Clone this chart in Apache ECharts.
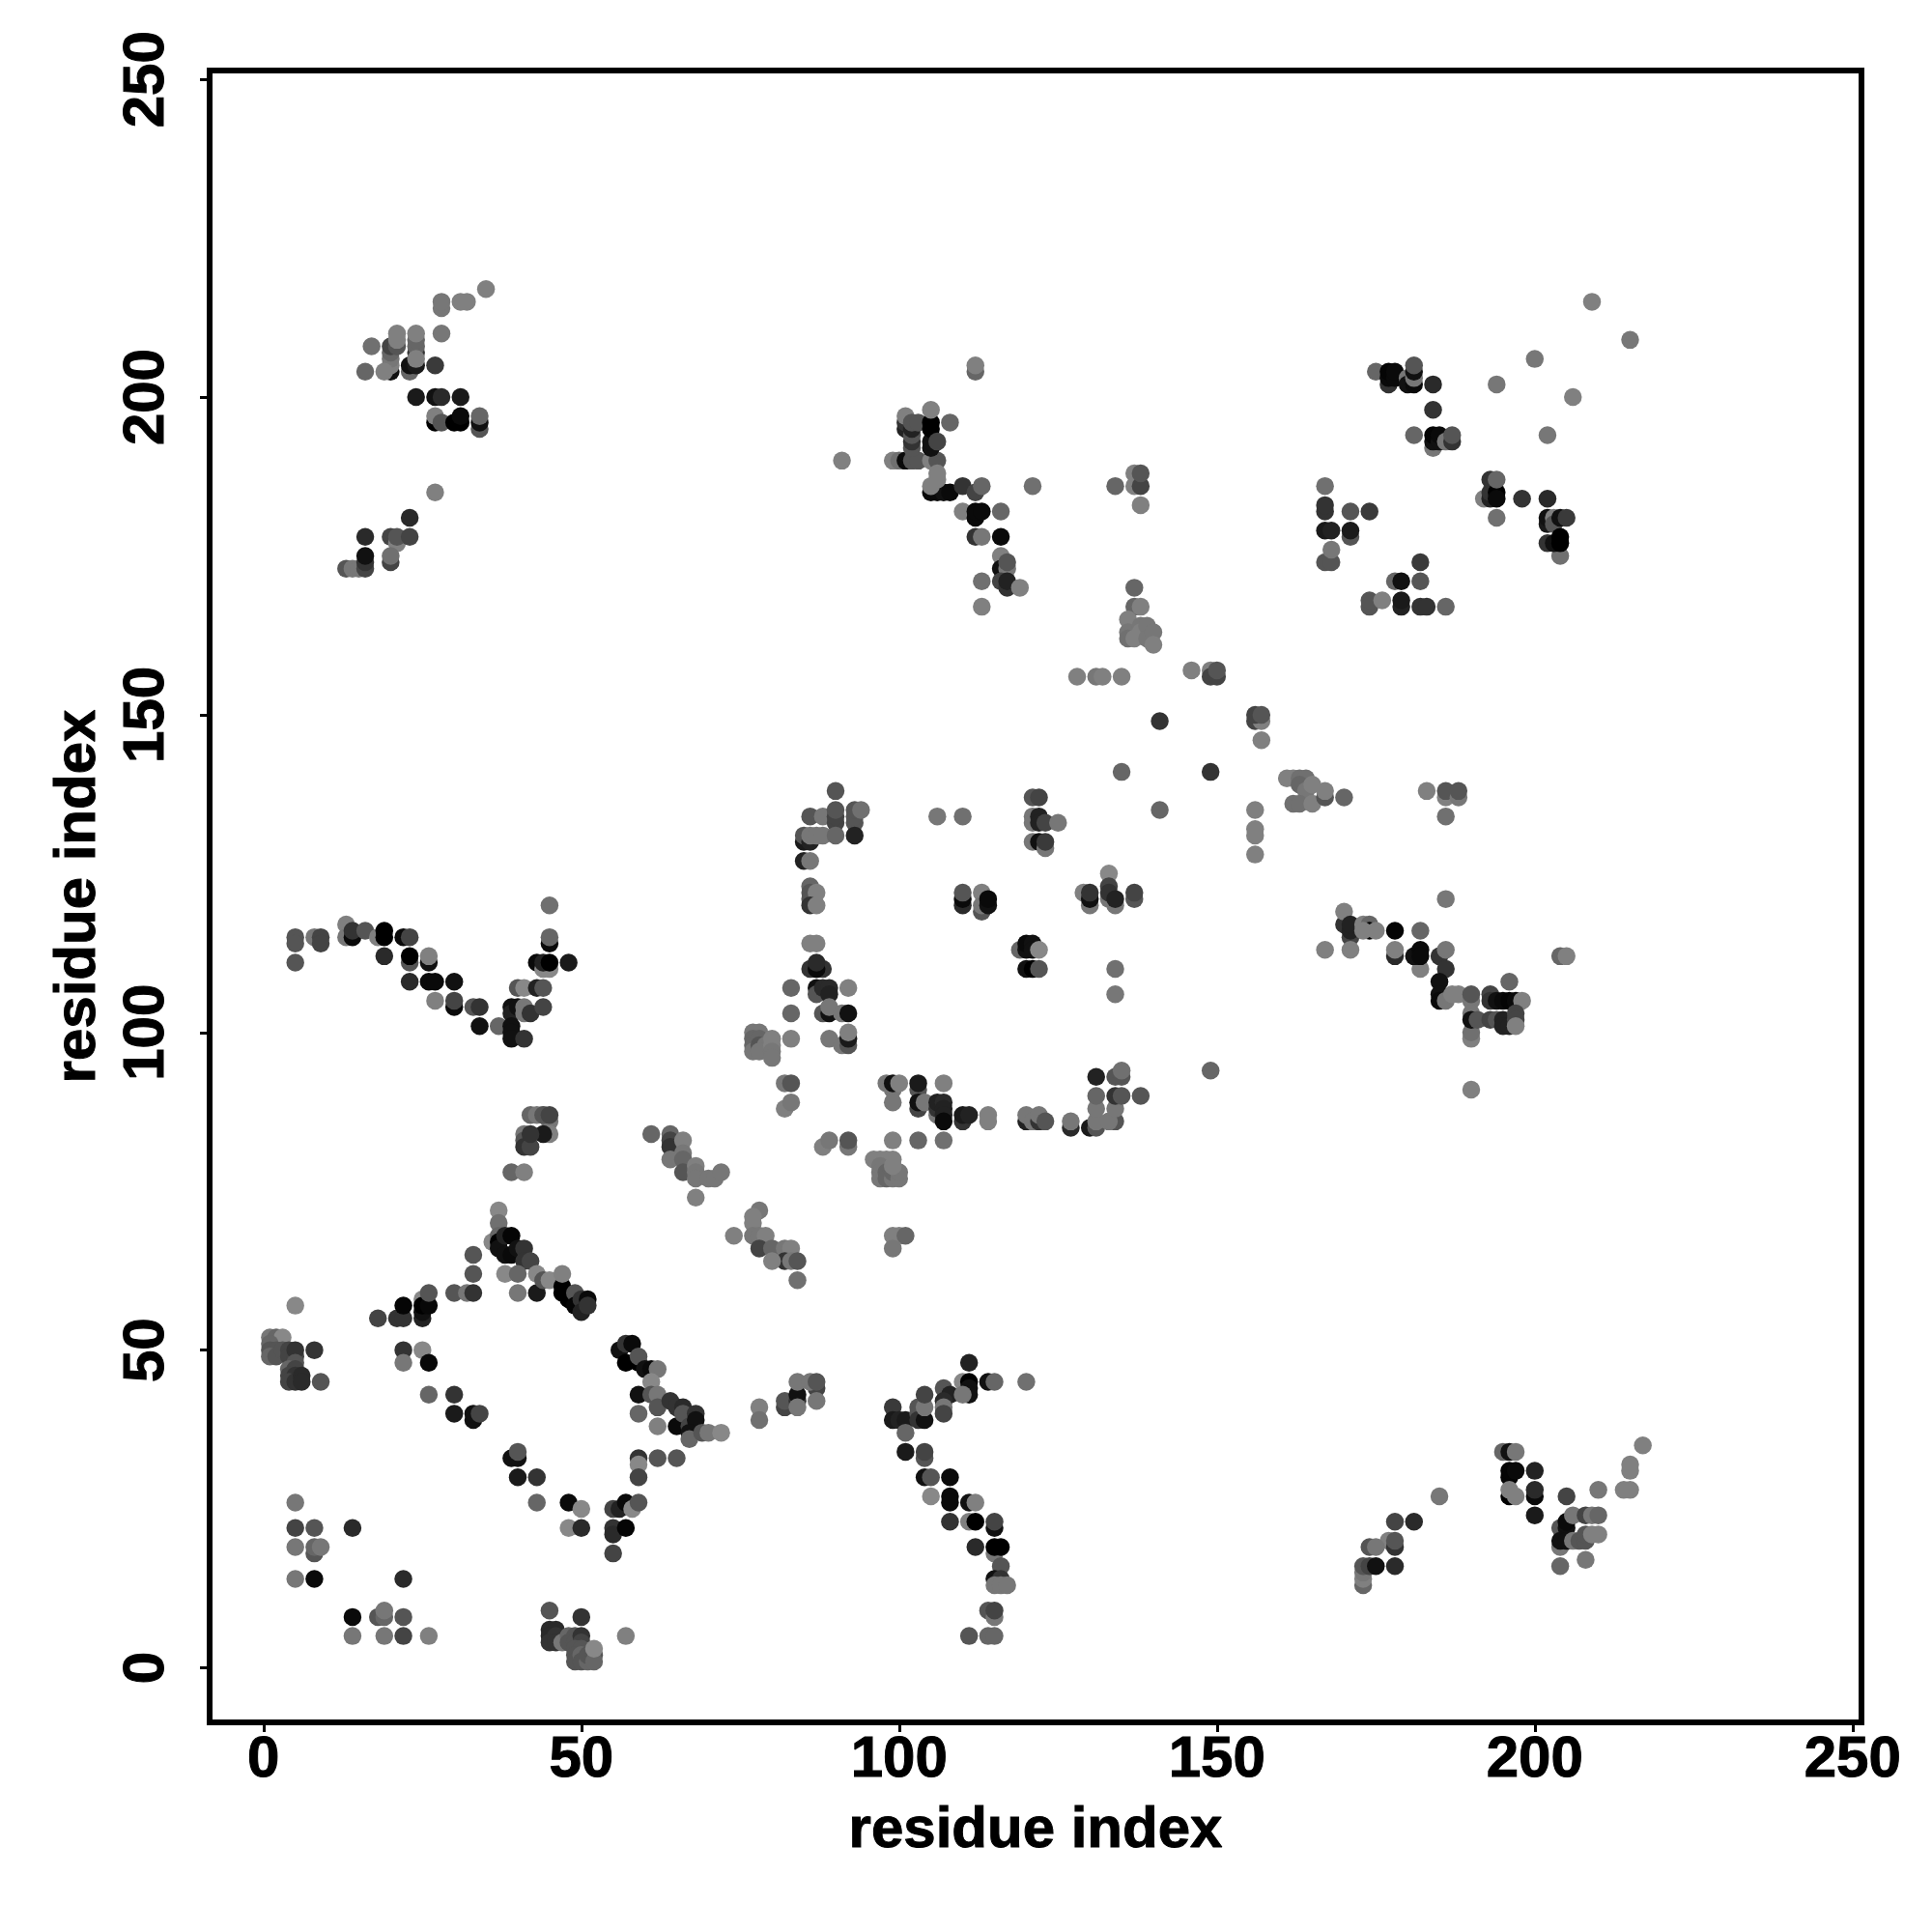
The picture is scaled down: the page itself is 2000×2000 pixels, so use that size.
<!DOCTYPE html>
<html><head><meta charset="utf-8">
<style>html,body{margin:0;padding:0;background:#fff}#c{width:2000px;height:2000px}</style>
<script src="https://cdn.jsdelivr.net/npm/echarts@6/dist/echarts.min.js"></script>
</head><body><div id="c"></div>
<script>
// each contact: [residue i, residue j, grey level 0-255]
const tickValues = [0, 50, 100, 150, 200, 250];
const axisTitle = 'residue index';

const cornerA = [[5,57,136],[1,52,119],[2,52,102],[3,52,136],[1,51,102],[1,50,85],[2,50,85],[1,49,102],[2,49,85],[3,50,85],[4,50,68],[4,49,68],[5,49,68],[5,50,51],[5,48,85],[4,47,102],[5,47,68],[4,46,68],[5,46,51],[4,45,68],[5,45,51],[6,46,42],[6,45,42],[8,50,51],[9,45,85],
[18,55,68],[21,55,51],[22,55,51],[25,55,34],[25,56,17],[22,57,5],[25,58,136],[25,57,0],[26,57,8],[26,59,85],[30,59,85],[32,59,119],[33,59,51],[33,62,85],[33,65,85],
[22,50,51],[25,50,136],[22,48,119],[26,48,8],[26,43,102],[30,43,51],[30,40,26],[33,39,17],[33,40,17],[34,40,68],[39,33,17],[40,33,17],[40,34,85],[40,30,26],[43,30,51],[43,26,102],[48,26,10],[50,25,136],[48,22,136],[50,22,42],[55,25,68],[56,25,34],[57,26,10],[58,25,136],[59,26,85],[55,22,51],[55,21,42],[57,22,5],[55,18,68],[59,33,51],[59,32,136],[59,30,68],[62,33,85],[65,33,85]];
const cornerB = [[5,26,119],[5,22,68],[8,22,85],[14,22,42],[5,19,119],[8,18,85],[8,19,102],[9,19,119],[5,14,119],[8,14,10],[22,14,42],[14,8,10],[18,8,85],[19,8,102],[19,9,119],[22,8,85],[14,5,119],[19,5,119],[22,5,68],[26,5,128],
[45,9,85],[50,8,51],[45,6,42],[46,6,42],[45,5,42],[46,5,51],[45,4,51],[46,4,51],[47,4,119],[48,5,102],[48,4,85],[49,5,85],[49,4,85],[50,5,51],[50,4,68],[49,3,85],[50,3,85],[49,2,85],[49,1,85],[50,2,102],[50,1,85],[51,1,102],[51,2,85],[52,2,85],[52,1,102],[52,3,136],[57,5,128]];
const stripA = [[37,72,136],[37,70,112],[36,67,136],[37,68,102],[37,67,0],[37,66,17],[38,68,34],[39,68,5],[38,65,17],[39,65,10],[40,66,17],[41,66,51],[41,64,51],[42,64,68],[38,62,136],[40,62,102],[40,59,119],[43,59,26],[43,62,136],[44,61,85],[45,61,136],[47,60,0],[47,59,0],[47,62,128],[48,58,0],[49,59,85],[49,57,5],[50,58,51],[50,56,34],[51,58,10],[51,57,51]];
const stripB = [[56,50,17],[57,51,51],[58,51,10],[57,48,0],[59,48,0],[59,49,85],[60,47,17],[61,47,10],[62,47,119],[61,45,136],[59,43,17],[61,43,85],[62,43,119],[59,40,102],[62,41,85],[62,38,128],[64,42,51],[65,41,51],[66,41,42],[65,38,10],[66,40,85],[67,38,68],[68,40,51],[68,39,17],[67,37,17],[67,36,102],[69,37,85],[70,37,119],[72,37,136]];
const lowerMid = [[78,41,128],[78,39,112],[82,41,68],[82,42,85],[84,42,51],[84,43,17],[84,41,119],[84,45,119],[87,44,68],[87,42,119],[86,45,119],[87,45,85],
[99,41,58],[99,39,26],[100,39,34],[101,39,26],[101,37,102],[103,41,85],[103,40,85],[103,39,51],[104,39,17],[104,41,119],[104,43,68],[107,44,85],[108,43,34],[107,42,42],[107,41,119],[107,40,68],[110,45,136],[111,48,34],[111,45,0],[111,44,17],[111,43,17],[110,43,119],[114,45,17],[115,45,102],[120,45,112],
[101,34,26],[104,33,85],[104,34,68],[104,30,17],[105,30,85],[108,30,10],[105,27,136],[108,27,10],[108,26,10],[111,26,17],[112,26,128],[108,23,51],[111,23,128],[112,23,0],[115,22,17],[115,23,68],[112,19,42],[115,18,119],[115,19,0],[116,19,0],[116,16,85],[115,14,17],[116,14,51],[115,13,119],[116,13,119],[117,13,119],[114,9,85],[115,8,119],[115,9,68],[111,5,85],[114,5,102],[115,5,102]];
const vShapeLeft = [[5,115,85],[5,114,85],[5,111,85],[8,115,119],[9,115,68],[9,114,68],[13,117,128],[13,115,119],[14,115,10],[14,116,51],[16,116,85],[18,115,128],[19,116,0],[19,115,0],[22,115,10],[23,115,68],[19,112,42],[23,111,85],[23,112,0],[26,111,17],[26,112,128],[23,108,42],[26,108,10],[27,108,10],[30,108,17],[27,105,128],[30,104,10],[30,105,68],[33,104,85],[34,104,51],[34,101,17],[37,101,102],
[39,104,17],[39,103,34],[39,101,17],[39,100,17],[39,99,17],[41,99,51],[40,104,17],[41,103,119],[41,104,119],[42,103,51],[44,104,68],[40,107,85],[41,107,136],[43,107,34],[44,107,85],[43,111,10],[44,110,136],[45,110,136],[44,111,34],[45,111,0],[48,111,26],[45,114,10],[45,115,102],[45,120,112]];
const clusterHigh = [[42,87,102],[43,87,119],[44,87,128],[45,86,119],[44,87,85],[45,87,68],[45,84,128],[44,84,26],[41,84,119],[41,83,85],[41,82,51],[42,82,68],[42,84,51],[39,78,102],[41,78,128],
[61,84,102],[64,84,102],[64,83,68],[64,82,51],[66,83,128],[64,80,119],[66,81,119],[66,80,102],[66,78,85],[68,79,128],[68,78,119],[68,77,119],[70,77,119],[71,77,119],[72,78,119],[68,74,128]];
const midRows = [[83,107,102],[83,103,102],[83,99,128],[87,110,17],[88,110,51],[87,107,17],[87,106,85],[88,107,42],[89,107,42],[89,106,34],[92,107,128],[88,103,85],[89,103,17],[89,104,119],[91,103,119],[92,103,17],[89,99,119],[91,98,119],[92,98,85],[92,99,26],[92,100,128],
[77,100,119],[78,100,119],[77,99,102],[77,98,102],[78,99,102],[77,97,119],[78,98,85],[79,98,119],[78,97,119],[80,99,128],[80,98,128],[80,97,119],[80,96,119],
[82,92,119],[83,92,85],[82,88,128],[83,89,119],[98,92,119],[99,91,119],[99,92,17],[100,92,128],[99,89,119],[103,91,85],[103,92,26],[103,88,68],[103,89,17],[104,89,119],[107,92,128],[106,87,119],[106,88,51],[106,89,34],[107,89,42],[107,88,34],[107,87,34],[107,86,10],
[110,86,51],[110,87,26],[111,87,34],[114,87,128],[114,86,128],[120,86,34],[120,87,119],[121,86,119],[122,86,51],[122,87,119],[123,86,85],[127,85,42],[127,86,119],[130,85,26],[131,85,85],[131,86,119],[131,88,119],[131,90,102],[131,93,34],[134,93,85],[135,93,85],[135,94,112],[134,86,85],[133,86,119],[134,88,119],[134,90,51],[135,90,85],[138,90,85],
[88,82,128],[89,83,119],[92,82,119],[92,83,85],[99,83,128],[103,83,102],[107,83,112],
[96,80,128],[97,80,128],[98,80,128],[99,80,128],[97,79,119],[97,78,119],[97,77,119],[98,78,102],[98,77,102],[99,77,119],[99,78,102],[100,77,119],[100,78,119],[99,79,128],
[78,72,119],[77,71,128],[77,70,128],[74,68,128],[77,68,119],[78,68,119],[79,68,128],[78,66,68],[80,66,102],[82,66,119],[83,66,128],[82,64,51],[80,64,128],[83,64,119],[84,64,85],[84,61,112],[99,68,128],[100,68,128],[101,68,102],[99,66,119]];
const arcMiddle = [[90,138,85],[86,134,85],[88,134,119],[90,133,68],[90,134,68],[90,135,85],[93,133,85],[93,134,85],[93,135,85],[94,135,112],[85,130,26],[85,131,85],[86,130,34],[86,131,119],[87,131,119],[88,131,119],[90,131,102],[93,131,34],[85,127,34],[86,127,119],[86,123,102],[86,122,85],[86,121,85],[87,122,128],[86,120,51],[87,120,128],[86,114,128],[87,114,128],[86,110,51],[87,110,10],[87,111,42],
[106,134,119],[110,134,112],[121,137,85],[122,137,68],[121,134,119],[121,133,119],[122,134,34],[122,133,34],[123,133,68],[125,133,119],[121,130,119],[122,130,17],[123,129,119],[123,130,58],[135,141,102],[149,141,51],[141,135,102],
[110,120,42],[110,121,10],[110,122,85],[113,122,128],[113,119,85],[113,120,119],[114,120,17],[114,121,10],[129,122,128],[130,120,119],[130,121,17],[130,122,51],[133,125,136],[133,123,68],[133,121,119],[133,122,51],[134,120,119],[134,121,34],[137,121,85],[137,122,68],
[119,113,102],[120,113,17],[120,114,10],[121,114,17],[121,113,17],[122,113,136],[120,110,17],[121,110,0],[122,110,85],[134,110,112],[134,106,119],[149,94,102]];
const rightMid = [[156,135,128],[156,132,128],[156,131,128],[156,128,128],[161,140,128],[162,140,128],[163,140,112],[164,140,112],[163,139,102],[164,138,119],[162,136,112],[163,136,112],[165,139,128],[165,136,128],[167,137,85],[167,138,128],[170,137,102],[183,138,128],[186,137,128],[186,138,85],[188,137,119],[188,138,85],[186,134,112],[186,121,119],
[170,117,51],[170,119,128],[171,115,68],[171,116,34],[171,117,34],[173,117,128],[174,117,102],[174,116,0],[173,116,128],[175,116,128],[178,116,5],[178,112,42],[178,113,128],[182,116,102],[182,110,128],[181,112,17],[182,113,10],[182,112,10],[185,112,51],[186,113,119],[186,110,51],[185,108,17],[185,106,17],[185,105,10],[186,105,119],[187,106,128],[188,106,128],[190,105,119],[190,106,85],
[190,99,128],[190,100,112],[190,103,119],[190,102,17],[191,102,85],[193,102,68],[194,102,85],[193,106,68],[193,105,51],[194,105,17],[196,108,102],[195,105,10],[196,105,5],[197,105,10],[198,105,128],[195,102,34],[195,101,34],[196,101,34],[197,103,68],[197,102,68],[197,101,128],[190,91,128],[204,112,102],[205,112,128],[167,113,128],[171,113,128]];
const topLeft = [[35,217,128],[28,214,119],[28,215,119],[31,215,128],[32,215,128],[28,210,119],[20,204,17],[20,205,128],[20,206,119],[20,207,102],[20,208,68],[21,208,85],[21,209,128],[21,210,128],[24,207,51],[24,208,102],[24,209,102],[24,210,128],[17,208,112],[16,204,102],[19,204,128],[23,204,102],[23,205,17],[24,205,26],[24,206,128],[27,205,58],
[24,200,26],[27,200,17],[28,200,42],[31,200,26],[27,196,0],[27,197,128],[28,196,85],[30,196,0],[31,196,0],[31,197,10],[34,195,85],[34,196,17],[34,197,102],[27,185,128],[23,181,42],[16,178,42],[20,178,68],[21,177,128],[21,178,85],[23,178,68],
[13,173,85],[14,173,119],[15,173,119],[16,173,68],[16,174,51],[16,175,17],[20,174,68],[20,175,112]];
const topMiddle = [[112,204,102],[112,205,128],[91,190,128],[99,190,128],[100,190,112],[101,190,10],[102,190,85],[103,190,85],[105,190,128],[106,190,85],[101,195,34],[101,196,51],[101,197,128],[102,192,85],[102,193,51],[102,194,85],[102,195,34],[102,196,85],[103,196,85],[105,192,17],[105,193,17],[105,195,0],[105,196,0],[105,198,128],[106,193,68],[108,196,102],
[105,185,10],[106,185,10],[107,185,17],[108,185,10],[105,186,128],[106,187,128],[106,188,128],[110,186,51],[112,185,68],[113,186,102],[121,186,112],[134,186,102],[137,186,128],[137,188,128],[138,186,68],[138,188,85],[138,183,128],
[110,182,128],[112,181,10],[112,182,10],[113,182,10],[116,182,102],[112,178,51],[113,178,119],[116,178,10],[116,175,128],[116,173,17],[117,173,119],[117,174,85],[116,171,68],[117,170,51],[117,171,34],[119,170,128],[113,171,112],[113,167,128]];
const centreCluster = [[137,170,102],[137,167,102],[138,167,128],[136,165,128],[136,163,119],[136,162,112],[137,162,128],[138,164,119],[138,163,128],[139,164,119],[139,162,119],[140,163,119],[140,161,128],[128,156,128],[131,156,119],[132,156,128],[135,156,128],[146,157,128],[149,157,128],[149,156,68],[150,156,68],[150,157,85],[141,149,51],[156,149,68],[157,149,128],[156,150,68],[157,150,85],[157,146,128]];
const topRight = [[209,215,128],[215,209,119],[200,206,119],[206,200,128],[194,202,119],[202,194,119],[175,204,102],[177,202,51],[177,203,10],[177,204,5],[178,203,10],[178,204,10],[180,203,119],[180,202,17],[181,202,10],[181,203,119],[181,204,17],[181,205,85],[184,202,42],[184,198,51],[181,194,102],[184,192,119],[184,193,17],[184,194,5],[185,193,17],[185,194,10],[186,193,119],[187,193,51],[187,194,85],
[192,184,128],[193,184,34],[193,185,51],[193,187,51],[194,185,0],[194,184,10],[194,187,102],[194,181,112],[198,184,51],[202,184,42],[202,180,26],[202,181,17],[203,181,128],[203,180,85],[204,181,17],[205,181,58],[202,177,51],[204,175,112],[203,177,17],[204,177,0],[204,178,0],
[167,186,112],[167,182,51],[167,183,51],[171,182,85],[174,182,58],[167,179,26],[168,179,34],[171,178,85],[171,179,26],[167,174,85],[168,174,85],[168,176,119],[182,174,58],[178,171,102],[179,171,17],[182,171,85],[174,167,85],[174,168,85],[176,168,128],[179,167,34],[179,168,26],[182,167,51],[183,167,51],[186,167,102]];
const bottomRight = [[217,35,128],[215,31,128],[215,32,128],[214,28,128],[215,28,128],[210,28,119],[185,27,119],[178,23,68],[181,23,42],[177,20,128],[178,19,51],[178,20,85],[174,19,85],[175,19,119],[173,13,102],[173,14,128],[173,15,119],[173,16,85],[174,16,68],[175,16,17],[178,16,42],
[195,34,102],[196,34,17],[197,34,119],[196,30,5],[196,31,5],[197,31,10],[200,31,34],[196,27,0],[196,28,128],[197,27,128],[200,27,10],[200,28,42],[200,24,26],[205,27,68],[204,22,85],[205,22,17],[205,23,10],[206,24,119],[208,24,68],[209,24,119],[210,24,102],[204,19,119],[204,20,17],[205,20,17],[206,20,119],[207,20,85],[208,20,85],[208,21,85],[209,21,128],[210,21,128],[208,17,119],[204,16,102]];

const contacts = [].concat(cornerA, cornerB, stripA, stripB, lowerMid, vShapeLeft, clusterHigh, midRows, arcMiddle, rightMid, topLeft, topMiddle, centreCluster, topRight, bottomRight);

const labelFont = 'Liberation Sans';
const chart = echarts.init(document.getElementById('c'), null, {renderer: 'canvas'});
const boldText = {fontFamily: labelFont, fontWeight: 'bold', color: '#000', textBorderColor: '#000', textBorderWidth: 1};
const mkAxis = (min, max, extra) => Object.assign({
  type: 'value', min: min, max: max, splitLine: {show: false},
  name: axisTitle, nameLocation: 'middle',
  nameTextStyle: Object.assign({fontSize: 60}, boldText),
  axisLine: {show: false, onZero: false},
  axisTick: {show: true, length: 10, customValues: tickValues, lineStyle: {color: '#000', width: 3}}
}, extra);
chart.setOption({
  animation: false,
  backgroundColor: '#fff',
  grid: {left: 217, right: 73, top: 73, bottom: 217, show: true, borderColor: '#000', borderWidth: 6, backgroundColor: 'transparent'},
  xAxis: mkAxis(-8.48, 251.4, {
    nameGap: 82,
    axisLabel: Object.assign({customValues: tickValues, showMinLabel: true, showMaxLabel: true, hideOverlap: false, margin: 9, fontSize: 60}, boldText)
  }),
  yAxis: mkAxis(-8.59, 251.4, {
    nameGap: 106,
    axisLabel: Object.assign({customValues: tickValues, rotate: 90, showMinLabel: true, showMaxLabel: true, hideOverlap: false, margin: 35, fontSize: 60}, boldText)
  }),
  series: [{
    type: 'scatter', symbol: 'circle', symbolSize: 18.5, large: false, silent: true,
    data: contacts,
    encode: {x: 0, y: 1},
    itemStyle: {opacity: 1, color: p => { const g = p.value[2]; return `rgb(${g},${g},${g})`; }}
  }]
});
</script></body></html>
